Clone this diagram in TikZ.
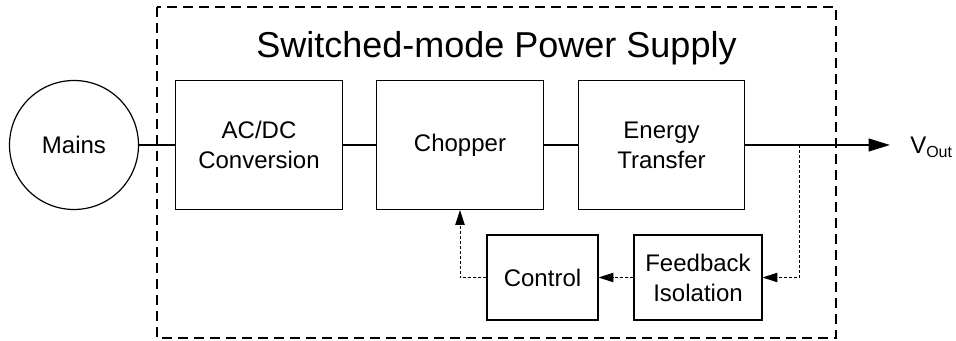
\documentclass[tikz,border=0pt]{standalone}
\usepackage{fontspec}
\setmainfont{Liberation Sans}
\usetikzlibrary{arrows.meta}

\begin{document}
\begin{tikzpicture}[x=0.75pt, y=-0.75pt,
  block/.style={draw, line width=0.9pt, align=center, inner sep=0pt,
    minimum width=125pt, minimum height=96.75pt,
    font=\fontsize{18}{22.5}\selectfont},
  power/.style={line width=1.5pt},
  fb/.style={line width=0.7pt, dash pattern=on 2.25pt off 1.5pt}]

\useasboundingbox (0,0) rectangle (956,341);

% Power supply outline
\draw[line width=0.8pt, dash pattern=on 7.5pt off 4.5pt] (157,7) rectangle (836,338);
\node[anchor=base, font=\fontsize{27}{32}\selectfont] (title) at (496.5,58) {Switched-mode Power Supply};

% Mains
\node[draw, circle, line width=0.9pt, minimum size=96.75pt, inner sep=0pt,
  font=\fontsize{18}{22.5}\selectfont] (mains) at (74,145) {Mains};

% Power path
\node[block] (acdc) at (259,145) {AC/DC\\Conversion};
\node[block] (chopper) at (460,145) {Chopper};
\node[block] (energy) at (661.5,145) {Energy\\Transfer};

% Feedback path
\node[block, minimum width=83.25pt, minimum height=63.75pt] (control) at (542.5,277.5) {Control};
\node[block, minimum width=96pt, minimum height=63.75pt] (feedback) at (698,277.5) {Feedback\\Isolation};

% Output
\coordinate (tip) at (890,145);
\coordinate (tap) at (799,145);
\node[anchor=base west, inner sep=0pt, font=\fontsize{18}{22.5}\selectfont] (vout) at (910,154)
  {V\raisebox{-0.3ex}{\fontsize{12}{12}\selectfont Out}};

% Connections
\draw[power] (mains) -- (acdc);
\draw[power] (acdc) -- (chopper);
\draw[power] (chopper) -- (energy);
\draw[power, -{Triangle[length=16pt, width=9.5pt]}] (energy) -- (tip);

% Feedback loop
\draw[fb, -{Triangle[length=11pt, width=7pt]}] (tap) |- (feedback);
\draw[fb, -{Triangle[length=11pt, width=7pt]}] (feedback) -- (control);
\draw[fb, -{Triangle[length=11pt, width=7pt]}] (control) -| (chopper);

\end{tikzpicture}
\end{document}
